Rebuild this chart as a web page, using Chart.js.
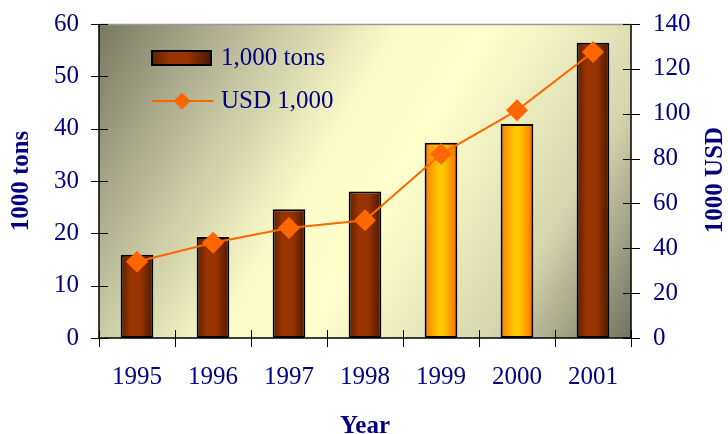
<!DOCTYPE html>
<html>
<head>
<meta charset="utf-8">
<title>Production 1995-2001</title>
<script src="https://cdn.jsdelivr.net/npm/chart.js@4"></script>
<style>
    html, body { margin: 0; padding: 0; background: #ffffff; }
    #wrap { width: 728px; height: 434px; }
</style>
</head>
<body>
<div id="wrap"><canvas id="prodChart" width="728" height="434"></canvas></div>
<script>
// chart data
const years = ['1995', '1996', '1997', '1998', '1999', '2000', '2001'];
const tons = [15.9, 19.3, 24.6, 28.0, 37.3, 40.9, 56.4];
const usd = [34, 42.5, 49, 52.5, 82, 101.5, 127.5];
const highlightYears = ['1999', '2000'];
const tonsLabel = '1,000 tons';
const usdLabel = 'USD 1,000';

const NAVY = '#000080';
const ORANGE = '#ff6600';
const FONT = '"Liberation Serif", "Times New Roman", Times, serif';
const BAR_PCT = 0.43;

// horizontal shading for one bar
function barGradient(ctx, x0, x1, yellow) {
    const g = ctx.createLinearGradient(x0, 0, x1, 0);
    if (yellow) {
        g.addColorStop(0, '#ff7a00');
        g.addColorStop(0.45, '#ffcc00');
        g.addColorStop(0.6, '#ffc400');
        g.addColorStop(1, '#ff6a00');
    } else {
        g.addColorStop(0, '#5c1f00');
        g.addColorStop(0.3, '#993300');
        g.addColorStop(0.6, '#993300');
        g.addColorStop(1, '#4a1800');
    }
    return g;
}

function barFill(context) {
    const chart = context.chart;
    const xs = chart.scales.x;
    const i = context.dataIndex;
    const yellow = i !== undefined && highlightYears.includes(years[i]);
    const flat = yellow ? '#ffcc00' : '#993300';
    if (!xs || i === undefined) return flat;
    const step = xs.getPixelForValue(1) - xs.getPixelForValue(0);
    const cx = xs.getPixelForValue(i);
    if (!isFinite(step) || !isFinite(cx)) return flat;
    const half = step * BAR_PCT / 2;
    return barGradient(chart.ctx, cx - half, cx + half, yellow);
}

// plot background, axes, legend and titles
const decorations = {
    id: 'decorations',
    beforeDatasetsDraw(chart) {
        const { ctx, chartArea: a } = chart;
        ctx.save();
        const g = ctx.createLinearGradient(a.left, a.top, a.right, a.bottom);
        g.addColorStop(0, '#787862');
        g.addColorStop(0.2, '#b9b998');
        g.addColorStop(0.42, '#fbfbc8');
        g.addColorStop(0.55, '#ffffcc');
        g.addColorStop(0.8, '#d6d6ae');
        g.addColorStop(1, '#727260');
        ctx.fillStyle = g;
        ctx.fillRect(a.left, a.top, a.right - a.left, a.bottom - a.top);
        ctx.restore();
    },
    afterDraw(chart) {
        const { ctx, chartArea: a, scales } = chart;
        ctx.save();

        // top border
        ctx.strokeStyle = '#9a9a9a';
        ctx.lineWidth = 1.5;
        ctx.beginPath();
        ctx.moveTo(a.left, a.top + 0.5);
        ctx.lineTo(a.right, a.top + 0.5);
        ctx.stroke();

        // axis lines
        ctx.strokeStyle = '#000000';
        ctx.lineWidth = 1.5;
        ctx.beginPath();
        ctx.moveTo(a.left, a.top);
        ctx.lineTo(a.left, a.bottom);
        ctx.lineTo(a.right, a.bottom);
        ctx.moveTo(a.right, a.top);
        ctx.lineTo(a.right, a.bottom);
        ctx.stroke();

        // tick marks crossing the axes
        ctx.lineWidth = 1;
        ctx.beginPath();
        scales.y.ticks.forEach(t => {
            const y = Math.round(scales.y.getPixelForValue(t.value)) + 0.5;
            ctx.moveTo(a.left - 8, y);
            ctx.lineTo(a.left + 9, y);
        });
        scales.y1.ticks.forEach(t => {
            const y = Math.round(scales.y1.getPixelForValue(t.value)) + 0.5;
            ctx.moveTo(a.right - 8, y);
            ctx.lineTo(a.right + 9, y);
        });
        const step = scales.x.getPixelForValue(1) - scales.x.getPixelForValue(0);
        for (let i = 0; i <= years.length; i++) {
            const x = Math.round(scales.x.getPixelForValue(i) - step / 2) + 0.5;
            ctx.moveTo(x, a.bottom - 8);
            ctx.lineTo(x, a.bottom + 9);
        }
        ctx.stroke();

        // legend
        const lx = a.left + 53, ly = a.top + 34;
        ctx.fillStyle = barGradient(ctx, lx, lx + 59, false);
        ctx.fillRect(lx, ly - 7, 59, 14);
        ctx.strokeStyle = '#000000';
        ctx.lineWidth = 2;
        ctx.strokeRect(lx, ly - 7, 59, 14);

        const ly2 = ly + 43;
        ctx.strokeStyle = ORANGE;
        ctx.lineWidth = 2;
        ctx.beginPath();
        ctx.moveTo(lx, ly2);
        ctx.lineTo(lx + 61, ly2);
        ctx.stroke();
        const dx = lx + 30, r = 8.5;
        ctx.fillStyle = ORANGE;
        ctx.beginPath();
        ctx.moveTo(dx - r, ly2);
        ctx.lineTo(dx, ly2 - r);
        ctx.lineTo(dx + r, ly2);
        ctx.lineTo(dx, ly2 + r);
        ctx.closePath();
        ctx.fill();

        ctx.fillStyle = NAVY;
        ctx.font = '25px ' + FONT;
        ctx.textAlign = 'left';
        ctx.textBaseline = 'middle';
        ctx.fillText(tonsLabel, lx + 69, ly);
        ctx.fillText(usdLabel, lx + 69, ly2);

        // axis titles
        ctx.font = 'bold 25px ' + FONT;
        ctx.textAlign = 'center';
        ctx.fillText('Year', (a.left + a.right) / 2, a.bottom + 89);
        const midY = (a.top + a.bottom) / 2;
        ctx.save();
        ctx.translate(22, midY);
        ctx.rotate(-Math.PI / 2);
        ctx.fillText('1000 tons', 0, 0);
        ctx.restore();
        ctx.save();
        ctx.translate(716, midY - 1);
        ctx.rotate(-Math.PI / 2);
        ctx.fillText('1000 USD', 0, 0);
        ctx.restore();

        ctx.restore();
    }
};

const tickFont = { family: FONT, size: 25 };

// fixed axis bands so the plot area lands where it should
function fixBand(size) {
    return s => {
        if (s.isHorizontal()) s.height = size; else s.width = size;
        s.paddingTop = 0;
        s.paddingBottom = 0;
        s.paddingLeft = 0;
        s.paddingRight = 0;
    };
}

function build() {
    new Chart(document.getElementById('prodChart'), {
        type: 'bar',
        data: {
            labels: years,
            datasets: [
                {
                    type: 'line',
                    label: usdLabel,
                    data: usd,
                    yAxisID: 'y1',
                    borderColor: ORANGE,
                    borderWidth: 2,
                    pointStyle: 'rectRot',
                    pointRadius: 11,
                    pointHoverRadius: 11,
                    pointBackgroundColor: ORANGE,
                    pointBorderWidth: 0,
                    tension: 0,
                    order: 0
                },
                {
                    label: tonsLabel,
                    data: tons,
                    yAxisID: 'y',
                    backgroundColor: barFill,
                    borderColor: '#000000',
                    borderWidth: 2,
                    borderSkipped: false,
                    barPercentage: BAR_PCT,
                    categoryPercentage: 1,
                    order: 1
                }
            ]
        },
        options: {
            responsive: false,
            animation: false,
            events: [],
            layout: { padding: { top: 24, left: 0, right: 0, bottom: 0 } },
            plugins: {
                legend: { display: false },
                tooltip: { enabled: false }
            },
            scales: {
                x: {
                    offset: true,
                    grid: { display: false, drawTicks: false },
                    border: { display: false },
                    ticks: { color: NAVY, font: tickFont, padding: 24, maxRotation: 0 },
                    afterFit: fixBand(96)
                },
                y: {
                    position: 'left',
                    min: 0,
                    max: 60,
                    ticks: { stepSize: 10, color: NAVY, font: tickFont, padding: 20 },
                    grid: { display: false, drawTicks: false },
                    border: { display: false },
                    afterFit: fixBand(99)
                },
                y1: {
                    position: 'right',
                    min: 0,
                    max: 140,
                    ticks: { stepSize: 20, color: NAVY, font: tickFont, padding: 22 },
                    grid: { display: false, drawTicks: false },
                    border: { display: false },
                    afterFit: fixBand(97)
                }
            }
        },
        plugins: [decorations]
    });
}

Promise.all([
    document.fonts.load('25px "Liberation Serif"'),
    document.fonts.load('bold 25px "Liberation Serif"')
]).catch(() => {}).then(build);
</script>
</body>
</html>
